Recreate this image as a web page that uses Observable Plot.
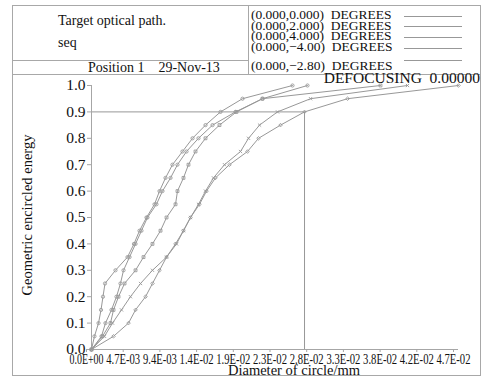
<!DOCTYPE html>
<html>
<head>
<meta charset="utf-8">
<script src="https://cdn.jsdelivr.net/npm/d3@7"></script>
<script src="https://cdn.jsdelivr.net/npm/@observablehq/plot@0.6"></script>
<style>
  html, body { margin: 0; padding: 0; background: #fff; }
  #chart { width: 482px; height: 378px; }
</style>
</head>
<body>
<div id="chart"></div>
<script>
// ---- data ----
const fieldLabels = ["(0.000,0.000)", "(0.000,2.000)", "(0.000,4.000)", "(0.000,\u22124.00)", "(0.000,\u22122.80)"];
const energyLevels = [0, 0.05, 0.10, 0.15, 0.20, 0.25, 0.30, 0.35, 0.40, 0.45, 0.50,
                      0.55, 0.60, 0.65, 0.70, 0.75, 0.80, 0.85, 0.90, 0.95, 1.00];
const diamField1 = [0, 0.00038, 0.00090, 0.00122, 0.00147, 0.00173, 0.00307, 0.00461, 0.00544, 0.00615, 0.00704,
                    0.00807, 0.00871, 0.00948, 0.01037, 0.01165, 0.01294, 0.01460, 0.01652, 0.01934, 0.02574];
const diamField2 = [0, 0.00128, 0.00179, 0.00256, 0.00320, 0.00371, 0.00410, 0.00487, 0.00564, 0.00640, 0.00717,
                    0.00832, 0.00909, 0.01012, 0.01101, 0.01217, 0.01370, 0.01550, 0.01844, 0.02190, 0.02766];
const diamField3 = [0, 0.00141, 0.00243, 0.00282, 0.00346, 0.00423, 0.00564, 0.00666, 0.00781, 0.00884, 0.00961,
                    0.01076, 0.01101, 0.01178, 0.01242, 0.01332, 0.01460, 0.01639, 0.01857, 0.02190, 0.03701];
const diamField4 = [0, 0.00166, 0.00269, 0.00384, 0.00499, 0.00628, 0.00781, 0.00961, 0.01089, 0.01178, 0.01268,
                    0.01370, 0.01460, 0.01562, 0.01703, 0.01908, 0.02011, 0.02152, 0.02382, 0.02805, 0.04047];
const diamField5 = [0, 0.00282, 0.00474, 0.00564, 0.00692, 0.00781, 0.00871, 0.00961, 0.01076, 0.01178, 0.01268,
                    0.01383, 0.01473, 0.01588, 0.01767, 0.01998, 0.02139, 0.02421, 0.02728, 0.03279, 0.04700];
const xTickValues = [0, 0.0047, 0.0094, 0.0141, 0.0188, 0.0235, 0.0282, 0.0329, 0.0376, 0.0423, 0.0470];
const xTickLabels = ["0.0E+00", "4.7E-03", "9.4E-03", "1.4E-02", "1.9E-02", "2.3E-02", "2.8E-02", "3.3E-02", "3.8E-02", "4.2E-02", "4.7E-02"];
const yTickValues = [0, 0.1, 0.2, 0.3, 0.4, 0.5, 0.6, 0.7, 0.8, 0.9, 1.0];
const refEnergy = 0.9;
const refDiameter = 0.02728;

// ---- build ----
const allDiams = [diamField1, diamField2, diamField3, diamField4, diamField5];
const rows = [];
allDiams.forEach((arr, s) => arr.forEach((d, i) => rows.push({field: fieldLabels[s], d, ee: energyLevels[i]})));
const tickLabelMap = new Map(xTickValues.map((v, i) => [v, xTickLabels[i]]));

const grey = "#989898";
const axisGrey = "#a6a6a6";

const plot = Plot.plot({
  width: 482,
  height: 378,
  marginLeft: 91,
  marginRight: 24,
  marginTop: 85,
  marginBottom: 29,
  style: {fontFamily: "'Liberation Serif', 'DejaVu Serif', serif", background: "#fff", color: "#111"},
  x: {domain: [0, 0.047], label: null},
  y: {domain: [0, 1], label: null},
  symbol: {domain: fieldLabels, range: ["circle", "circle", "square", "times", "diamond2"]},
  marks: [
    Plot.ruleY([refEnergy], {x1: 0, x2: refDiameter, stroke: grey, strokeWidth: 1}),
    Plot.ruleX([refDiameter], {y1: 0, y2: refEnergy, stroke: grey, strokeWidth: 1}),
    Plot.ruleX([0], {y1: 0, y2: 1, stroke: axisGrey}),
    Plot.ruleY([0], {stroke: axisGrey}),
    Plot.axisY(yTickValues, {tickFormat: d => d.toFixed(1), tickSize: 4, tickPadding: 2, fontSize: 15.5, stroke: axisGrey, fill: "#111", label: null}),
    Plot.axisX(xTickValues, {tickFormat: d => tickLabelMap.get(d), tickSize: 3, tickPadding: 2, fontSize: 14, dx: -5, stroke: axisGrey, fill: "#111", label: null}),
    Plot.line(rows, {x: "d", y: "ee", z: "field", stroke: grey, strokeWidth: 1}),
    Plot.dot(rows, {x: "d", y: "ee", symbol: "field", r: 1.6, stroke: grey, strokeWidth: 0.9, fill: "none"})
  ]
});

document.getElementById("chart").appendChild(plot);

// larger, horizontally condensed tick labels, as in the reference
d3.select(plot).selectAll('g[aria-label="x-axis tick label"]').attr("font-size", 14).style("font-size", "14px");
d3.select(plot).selectAll('g[aria-label="x-axis tick label"] text')
  .style("font-size", "14px")
  .attr("textLength", 34).attr("lengthAdjust", "spacingAndGlyphs");

// ---- header / frame annotations ----
const svg = d3.select(plot);
const g = svg.append("g").attr("class", "annotations");
const frameColor = "#a8a8a8";
g.append("rect").attr("x", 12.5).attr("y", 5.5).attr("width", 468).attr("height", 370)
  .attr("fill", "none").attr("stroke", frameColor);
g.append("line").attr("x1", 12.5).attr("x2", 480.5).attr("y1", 74.5).attr("y2", 74.5).attr("stroke", frameColor);
g.append("line").attr("x1", 248.5).attr("x2", 248.5).attr("y1", 5.5).attr("y2", 74.5).attr("stroke", frameColor);
g.append("line").attr("x1", 12.5).attr("x2", 248.5).attr("y1", 60.5).attr("y2", 60.5).attr("stroke", frameColor);

const txt = (x, y, s, size, anchor = "start") =>
  g.append("text").attr("x", x).attr("y", y).attr("font-size", size).attr("text-anchor", anchor)
    .attr("fill", "#111").text(s);

txt(58, 25, "Target optical path.", 14);
txt(58, 47, "seq", 14);
txt(88, 72, "Position 1\u00a0\u00a0\u00a0\u00a029-Nov-13", 14);

const legendBaselines = [19, 29.5, 40, 50.5, 70];
const legendLineY = [16, 26, 37, 48, 60];
fieldLabels.forEach((f, i) => {
  txt(251, legendBaselines[i], f + "\u00a0\u00a0DEGREES", 13.5);
  g.append("line").attr("x1", 404).attr("x2", 462).attr("y1", legendLineY[i] + 0.5).attr("y2", legendLineY[i] + 0.5)
    .attr("stroke", grey);
});

txt(480, 83, "DEFOCUSING\u00a0\u00a00.00000", 15.5, "end");
txt(294, 375, "Diameter of circle/mm", 14.5, "middle");
g.append("text").attr("transform", "translate(32,215) rotate(-90)").attr("text-anchor", "middle")
  .attr("font-size", 14.5).attr("fill", "#111").text("Geometric encircled energy");
</script>
</body>
</html>
